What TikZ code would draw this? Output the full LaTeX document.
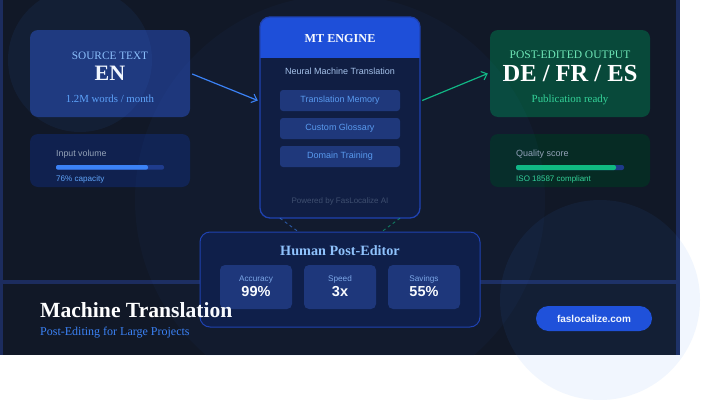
\documentclass[tikz,border=0pt]{standalone}
\usepackage{fontspec}
\setmainfont{Liberation Serif}
\setsansfont{Liberation Sans}
\usetikzlibrary{arrows.meta,calc}
\definecolor{bg}{HTML}{111827}
\definecolor{edgeline}{HTML}{1C2C5E}
\definecolor{srcfill}{HTML}{1D3578}
\definecolor{infill}{HTML}{10214F}
\definecolor{mtbody}{HTML}{0F1B3D}
\definecolor{mthead}{HTML}{1D4ED8}
\definecolor{mtborder}{HTML}{1E40AF}
\definecolor{subfill}{HTML}{1E3677}
\definecolor{subtext}{HTML}{5B9BEF}
\definecolor{outfill}{HTML}{08493A}
\definecolor{qualfill}{HTML}{062B24}
\definecolor{humfill}{HTML}{0E1C44}
\definecolor{metfill}{HTML}{1D3577}
\definecolor{lightblue}{HTML}{93C5FD}
\definecolor{midblue}{HTML}{60A5FA}
\definecolor{accblue}{HTML}{3B82F6}
\definecolor{greyblue}{HTML}{94A3B8}
\definecolor{mutedtext}{HTML}{3F4D6B}
\definecolor{mint}{HTML}{6EE7B7}
\definecolor{green}{HTML}{10B981}
\definecolor{greentext}{HTML}{34D399}
\definecolor{navyline}{HTML}{1E3A8A}
\definecolor{labelblue}{HTML}{7FA8E6}
\definecolor{neural}{HTML}{A9C4EA}
\newcommand\pxsize[1]{\fontsize{#1}{#1}\selectfont}
\tikzset{
  card/.style={rounded corners=8pt, draw=none, minimum width=160pt, inner sep=0pt},
  subbox/.style={rounded corners=3pt, fill=subfill, minimum width=120pt, minimum height=21pt, inner sep=0pt, text=subtext, font=\sffamily\pxsize{9}},
  metric/.style={rounded corners=5pt, fill=metfill, minimum width=72pt, minimum height=44pt, inner sep=0pt},
  txt/.style={inner sep=0pt, anchor=base},
  ltxt/.style={inner sep=0pt, anchor=base west},
  flow/.style={line width=1.2pt, -{Straight Barb[length=5pt,width=9pt,line width=1.1pt]}},
  dashlink/.style={line width=0.9pt, dash pattern=on 3pt off 3pt, opacity=0.6},
  halo/.style={fill=accblue}
}
\begin{document}
\begin{tikzpicture}[x=1pt,y=-1pt]
\useasboundingbox (0,0) rectangle (710,410);
\fill[white] (0,0) rectangle (710,410);
% panel
\fill[bg] (0,0) rectangle (680,355);
\fill[edgeline] (0,0) rectangle (3,355);
\fill[edgeline] (676,0) rectangle (680,355);
\fill[edgeline] (0,280) rectangle (680,284);

% source card
\node[card, fill=srcfill, minimum height=87pt] (src) at (110,73.5) {};
\node[txt, text=lightblue, font=\pxsize{11.3}] (srct) at (110,59.5) {SOURCE TEXT};
\node[txt, text=white, font=\bfseries\pxsize{22}] (srcl) at (110,80.5) {EN};
\node[txt, text=midblue, font=\pxsize{10.8}] (srcv) at (110,102.7) {1.2M words / month};

% input volume
\node[card, fill=infill, minimum height=53pt] (inp) at (110,160.5) {};
\node[ltxt, text=greyblue, font=\sffamily\pxsize{8.8}] (inpt) at (56,156.7) {Input volume};
\fill[navyline, rounded corners=2pt] (56,165) rectangle (164,169.7);
\fill[accblue, rounded corners=2pt] (56,165) rectangle (148,169.7);
\node[ltxt, text=midblue, font=\sffamily\pxsize{8.1}] (inpc) at (56,181.7) {76\% capacity};

% MT engine
\node[rounded corners=10pt, fill=mtbody, minimum width=160pt, minimum height=201pt, inner sep=0pt] (mt) at (340,117.5) {};
\begin{scope}
  \clip[rounded corners=10pt] (260,17) rectangle (420,218);
  \fill[mthead] (260,17) rectangle (420,58);
\end{scope}
\draw[mtborder, line width=1.3pt, rounded corners=10pt] (260,17) rectangle (420,218);
\node[txt, text=white, font=\bfseries\pxsize{12.2}] (mtt) at (340,42.7) {MT ENGINE};
\node[txt, text=neural, font=\sffamily\pxsize{9}] (mtn) at (340,74.3) {Neural Machine Translation};
\node[subbox] (tm) at (340,100.5) {Translation Memory};
\node[subbox] (cg) at (340,128.5) {Custom Glossary};
\node[subbox] (dt) at (340,156.5) {Domain Training};
\node[txt, text=mutedtext, font=\sffamily\pxsize{8}] (pow) at (340,203.7) {Powered by FasLocalize AI};

% output card
\node[card, fill=outfill, minimum height=87pt] (out) at (570,73.5) {};
\node[txt, text=mint, font=\pxsize{11.5}] (outt) at (570,58.8) {POST-EDITED OUTPUT};
\node[txt, text=white, font=\bfseries\pxsize{24.5}] (outl) at (570,81) {DE / FR / ES};
\node[txt, text=greentext, font=\pxsize{10.9}] (outv) at (570,102.7) {Publication ready};

% quality
\node[card, fill=qualfill, minimum height=53pt] (qual) at (570,160.5) {};
\node[ltxt, text=greyblue, font=\sffamily\pxsize{9}] (qualt) at (516,156.7) {Quality score};
\fill[navyline, rounded corners=2pt] (516,165) rectangle (624,170);
\fill[green, rounded corners=2pt] (516,165) rectangle (616,170);
\node[ltxt, text=greentext, font=\sffamily\pxsize{8}] (qualc) at (516,181.7) {ISO 18587 compliant};

% flow arrows
\draw[flow, accblue] ($(src.east)+(2,0.5)$) -- ($(mt.west)+(-2,-17)$);
\draw[flow, green] ($(mt.east)+(2,-17)$) -- ($(out.west)+(-2,0)$);

% human post-editor
\node[rounded corners=10pt, fill=humfill, draw=mtborder, line width=1pt, minimum width=280pt, minimum height=95pt, inner sep=0pt] (hum) at (340,279.5) {};
\node[txt, text=lightblue, font=\bfseries\pxsize{14.2}] (humt) at (340,255.7) {Human Post-Editor};
\node[metric] (m1) at (256,287) {};
\node[metric] (m2) at (340,287) {};
\node[metric] (m3) at (424,287) {};
\node[txt, text=labelblue, font=\sffamily\pxsize{8.2}] (m1l) at (256,281) {Accuracy};
\node[txt, text=labelblue, font=\sffamily\pxsize{8.2}] (m2l) at (340,281) {Speed};
\node[txt, text=labelblue, font=\sffamily\pxsize{8.2}] (m3l) at (424,281) {Savings};
\node[txt, text=white, font=\sffamily\bfseries\pxsize{14.5}] (m1v) at (256,296.7) {99\%};
\node[txt, text=white, font=\sffamily\bfseries\pxsize{14.5}] (m2v) at (340,296.7) {3x};
\node[txt, text=white, font=\sffamily\bfseries\pxsize{14.5}] (m3v) at (424,296.7) {55\%};

% dashed links
\draw[dashlink, accblue] ($(mt.south)+(-60,0)$) -- ($(hum.north)+(-42,0)$);
\draw[dashlink, green] ($(mt.south)+(60,0)$) -- ($(hum.north)+(42,0)$);

% title
\node[ltxt, text=white, font=\bfseries\pxsize{21.6}] (title) at (40,317.7) {Machine Translation};
\node[ltxt, text=accblue, font=\pxsize{12}] (sub) at (40,335) {Post-Editing for Large Projects};

% button
\node[rounded corners=12.5pt, fill=mthead, minimum width=116pt, minimum height=25pt, inner sep=0pt, text=white, font=\sffamily\bfseries\pxsize{10}] (btn) at (594,318.5) {faslocalize.com};

% halos
\begin{scope}
  \clip (0,0) rectangle (680,355);
  \fill[halo, opacity=0.07] (80,60) circle (72);
  \fill[halo, opacity=0.035] (340,200) circle (205);
\end{scope}
\fill[halo, opacity=0.07] (600,300) circle (100);
\end{tikzpicture}
\end{document}
